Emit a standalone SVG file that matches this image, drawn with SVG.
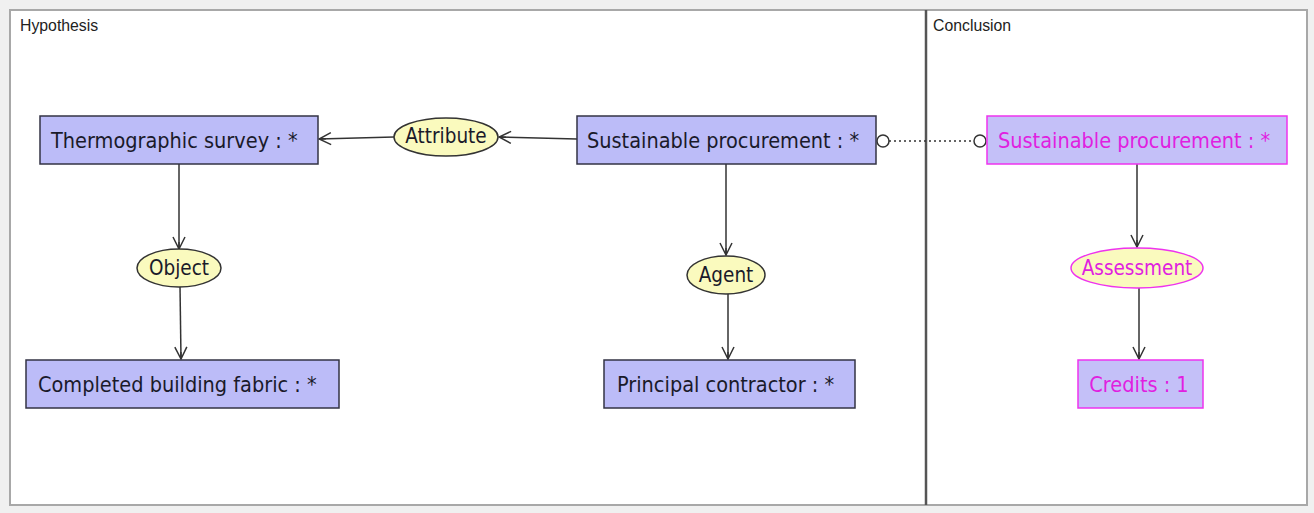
<svg xmlns="http://www.w3.org/2000/svg" width="1314" height="513" viewBox="0 0 1314 513">
<defs>
<style>
.box{fill:#bcbcf8;stroke:#333344;stroke-width:1.5}
.cbox{fill:#c4c0f8;stroke:#ee33ee;stroke-width:1.5}
.ell{fill:#fafabe;stroke:#333333;stroke-width:1.5}
.cell{fill:#fafabe;stroke:#ee33ee;stroke-width:1.5}
.t{font-family:"DejaVu Sans Condensed","Liberation Sans",sans-serif;font-size:21.5px;fill:#1a1a2a}
.e{font-family:"DejaVu Sans Condensed","Liberation Sans",sans-serif;font-size:20.5px;fill:#1a1a2a}
.ct{font-family:"DejaVu Sans Condensed","Liberation Sans",sans-serif;font-size:21.5px;fill:#e020e0}
.ce{font-family:"DejaVu Sans Condensed","Liberation Sans",sans-serif;font-size:20.5px;fill:#e020e0}
.lbl{font-family:"Liberation Sans",sans-serif;font-size:15.8px;fill:#222}
.edge{stroke:#333;stroke-width:1.5;fill:none}
</style>
<marker id="arr" viewBox="0 0 14 14" refX="13" refY="7" markerWidth="14" markerHeight="14" markerUnits="userSpaceOnUse" orient="auto">
<path d="M1,1 L13,7 L1,13 M13,7 L6,7" fill="none" stroke="#333" stroke-width="1.5"/>
</marker>
</defs>
<rect x="0" y="0" width="1314" height="513" fill="#f0f0f0"/>
<rect x="10" y="10" width="1297" height="495" fill="#ffffff" stroke="#a8a8a8" stroke-width="2"/>
<line x1="926" y1="10" x2="926" y2="505" stroke="#555" stroke-width="2.5"/>
<text class="lbl" x="20" y="31">Hypothesis</text>
<text class="lbl" x="933" y="31">Conclusion</text>
<g id="connectors">
<line class="edge" x1="577" y1="139" x2="499" y2="137" marker-end="url(#arr)"/>
<line class="edge" x1="394" y1="137" x2="319" y2="139" marker-end="url(#arr)"/>
<line class="edge" x1="179" y1="164" x2="179" y2="249" marker-end="url(#arr)"/>
<line class="edge" x1="180" y1="286" x2="181" y2="359" marker-end="url(#arr)"/>
<line class="edge" x1="726" y1="164" x2="726" y2="255" marker-end="url(#arr)"/>
<line class="edge" x1="728" y1="294" x2="728" y2="359" marker-end="url(#arr)"/>
<line class="edge" x1="1137" y1="164" x2="1137" y2="247" marker-end="url(#arr)"/>
<line class="edge" x1="1139" y1="288" x2="1139" y2="359" marker-end="url(#arr)"/>
<line x1="889" y1="141" x2="974" y2="141" stroke="#333" stroke-width="1.5" stroke-dasharray="2,3"/>
<circle cx="883" cy="141" r="6" fill="#fff" stroke="#333" stroke-width="1.5"/>
<circle cx="980" cy="141" r="6" fill="#fff" stroke="#333" stroke-width="1.5"/>
</g>
<g id="thermographic"><rect class="box" x="40" y="116" width="278" height="48"/><text class="t" x="51" y="148">Thermographic survey : *</text></g>
<g id="attribute"><ellipse class="ell" cx="446" cy="137" rx="52" ry="19"/><text class="e" x="446" y="143" text-anchor="middle">Attribute</text></g>
<g id="sp-hyp"><rect class="box" x="577" y="116" width="299" height="48"/><text class="t" x="587" y="148">Sustainable procurement : *</text></g>
<g id="sp-con"><rect class="cbox" x="987" y="116" width="300" height="48"/><text class="ct" x="998" y="148">Sustainable procurement : *</text></g>
<g id="object"><ellipse class="ell" cx="179" cy="268" rx="42" ry="19"/><text class="e" x="179" y="275" text-anchor="middle">Object</text></g>
<g id="agent"><ellipse class="ell" cx="726" cy="275" rx="39" ry="19"/><text class="e" x="726" y="282" text-anchor="middle">Agent</text></g>
<g id="assessment"><ellipse class="cell" cx="1137" cy="268" rx="66" ry="20"/><text class="ce" x="1137" y="275" text-anchor="middle">Assessment</text></g>
<g id="completed"><rect class="box" x="26" y="360" width="313" height="48"/><text class="t" x="38" y="392">Completed building fabric : *</text></g>
<g id="principal"><rect class="box" x="604" y="360" width="251" height="48"/><text class="t" x="617" y="392">Principal contractor : *</text></g>
<g id="credits"><rect class="cbox" x="1078" y="360" width="125" height="48"/><text class="ct" x="1139" y="392" text-anchor="middle">Credits : 1</text></g>
</svg>
